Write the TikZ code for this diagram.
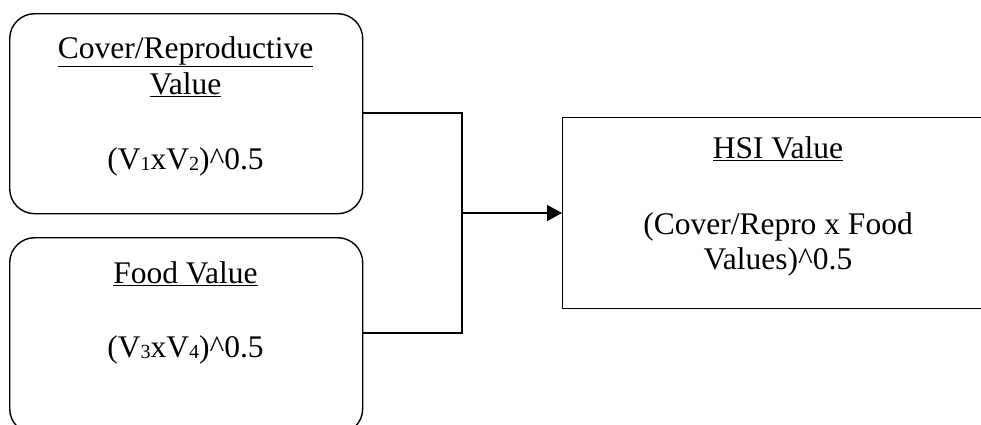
\documentclass[tikz,border=0pt]{standalone}
\usepackage{fontspec}
\setmainfont{Liberation Serif}
\usetikzlibrary{arrows.meta}
\newcommand{\lowsub}[1]{\raisebox{-1pt}{\fontsize{20}{20}\selectfont #1}}
\tikzset{
  rbox/.style={draw, line width=1.4pt, rounded corners=25pt, minimum width=353pt, anchor=north west},
  sbox/.style={draw, line width=1.4pt, minimum width=432pt, minimum height=191pt, anchor=north west},
  txt/.style={font=\fontsize{31.5}{36}\selectfont, inner sep=0pt, anchor=base},
  conn/.style={line width=1.4pt},
}
\begin{document}
\begin{tikzpicture}[x=1pt,y=-1pt]
\useasboundingbox (0,0) rectangle (981,424);
\clip (0,0) rectangle (981,424);
\node[rbox, minimum height=200pt] (cov) at (9,13) {};
\node[rbox, minimum height=196pt] (food) at (9,237) {};
\node[sbox] (hsi) at (562,117) {};
\node[txt] (covt1) at (185.5,58) {\underline{Cover/Reproductive}};
\node[txt] (covt2) at (185.5,94) {\underline{Value}};
\node[txt] (covf) at (185.5,169) {(V\lowsub{1}xV\lowsub{2})\^{}0.5};
\node[txt] (foodt) at (185.5,283) {\underline{Food Value}};
\node[txt] (foodf) at (185.5,357) {(V\lowsub{3}xV\lowsub{4})\^{}0.5};
\node[txt] (hsit) at (778,158) {\underline{HSI Value}};
\node[txt] (hsif1) at (778,234) {(Cover/Repro x Food};
\node[txt] (hsif2) at (778,269) {Values)\^{}0.5};
\coordinate (j) at (462,213);
\draw[conn] (cov.east |- 0,113) -| (j) |- (food.east |- 0,333);
\draw[conn, -{Triangle[length=15pt,width=16pt]}] (j) -- (hsi.west |- j);
\end{tikzpicture}
\end{document}
